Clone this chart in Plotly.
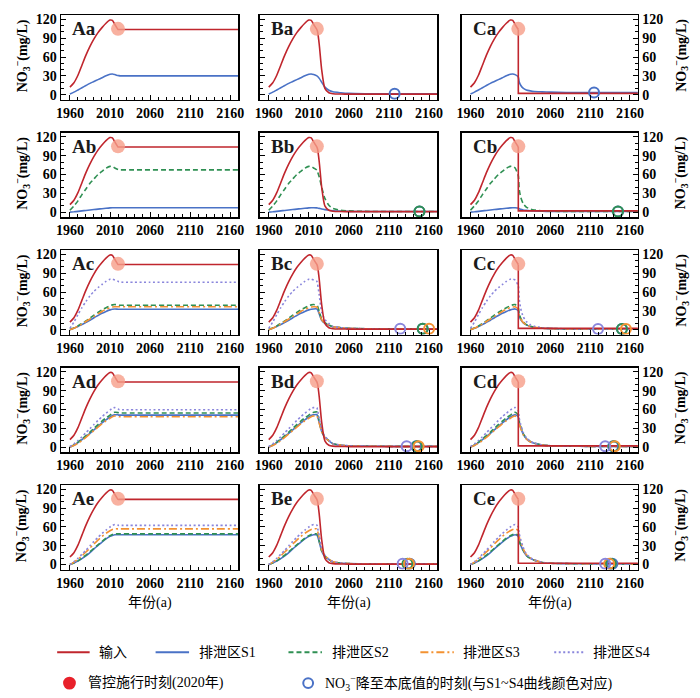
import plotly.graph_objects as go

# ---------------- data ----------------
PRE_YEARS = [1960, 1965, 1970, 1975, 1980, 1985, 1990, 1995, 2000, 2005, 2010, 2013, 2016]
POST_YEARS = [2020, 2021, 2023, 2026, 2030, 2035, 2040, 2050, 2060, 2080, 2110, 2140, 2170]
X_TICKS = [1960, 2010, 2060, 2110, 2160]
Y_TICKS = [0, 30, 60, 90, 120]

# input (输入)
INPUT_PRE = [12, 19, 31, 47, 63, 77, 89, 99, 107, 114, 119, 118.5, 112]
INPUT_POST_A = [104, 104, 104, 104, 104, 104, 104, 104, 104, 104, 104, 104, 104]
INPUT_POST_B = [104, 100, 80, 40, 10, 3, 1.5, 1, 0.8, 0.8, 0.8, 0.8, 0.8]
INPUT_C_END_YEAR = [2020]
INPUT_C_END = [104]
INPUT_C_DROP_YEARS = [2020, 2020, 2170]
INPUT_C_DROP = [104, 2, 2]

CONTROL_YEAR = [2020]
CONTROL_VALUE = [105]

# row a : S1
a_S1_pre = [1, 4, 7.5, 11, 14.5, 18, 21, 24, 27, 30, 32.5, 33, 32]
a_S1_A = [30.5, 30.3, 30, 30, 30, 30, 30, 30, 30, 30, 30, 30, 30]
a_S1_B = [30, 29, 26, 20, 12, 7, 4.5, 3, 2, 1.5, 1.5, 1.5, 1.5]
a_S1_C = [28, 21, 15, 10.5, 7.5, 6, 5, 4.5, 4, 3.5, 3.5, 3.5, 3.5]

# row b : S1, S2
b_S1_pre = [0, 0.5, 1.2, 2, 2.7, 3.4, 4.1, 4.8, 5.5, 6.2, 6.8, 7, 7]
b_S1_A = [7, 7, 7, 7, 7, 7, 7, 7, 7, 7, 7, 7, 7]
b_S1_B = [6.8, 6.6, 6, 5, 4, 3, 2.3, 1.6, 1.2, 1, 1, 1, 1]
b_S1_C = [6.5, 5.5, 4.5, 3.5, 2.8, 2.2, 1.8, 1.4, 1.2, 1, 1, 1, 1]
b_S2_pre = [3, 10, 18, 28, 37, 46, 53, 60, 65, 70, 73, 73, 70.5]
b_S2_A = [68, 67.5, 67.5, 67.5, 67.5, 67.5, 67.5, 67.5, 67.5, 67.5, 67.5, 67.5, 67.5]
b_S2_B = [67, 64, 56, 40, 22, 11, 6, 3, 2, 1.2, 1, 1, 1]
b_S2_C = [58, 38, 24, 14, 8, 5, 3.5, 2, 1.5, 1, 1, 1, 1]

# row c : S1..S4
c_S1_pre = [0, 2, 5, 8, 11.5, 15, 19, 22.5, 26, 29, 31.5, 32.5, 33]
c_S2_pre = [0, 2.5, 6, 10, 14, 18.5, 23, 27.5, 31.5, 35, 38, 39.5, 40]
c_S3_pre = [0, 2, 5.5, 9, 13, 17, 21, 25, 29, 32.5, 35, 36, 36.5]
c_S4_pre = [2, 12, 24, 35, 45, 54, 61, 67, 72, 77, 80.5, 80.5, 79]
c_S1_A = [32.5, 32.5, 32.5, 32.5, 32.5, 32.5, 32.5, 32.5, 32.5, 32.5, 32.5, 32.5, 32.5]
c_S2_A = [39.5, 39, 39, 39, 39, 39, 39, 39, 39, 39, 39, 39, 39]
c_S3_A = [36.5, 36.5, 36.5, 36.5, 36.5, 36.5, 36.5, 36.5, 36.5, 36.5, 36.5, 36.5, 36.5]
c_S4_A = [77, 76.5, 76, 75.5, 75.5, 75.5, 75.5, 75.5, 75.5, 75.5, 75.5, 75.5, 75.5]
c_S1_B = [33, 31.5, 25, 15, 10, 7, 4.5, 3, 2, 1.5, 1.2, 1.2, 1.2]
c_S2_B = [39, 37, 29, 17, 11, 7.5, 4.5, 3, 2, 1.5, 1.2, 1.2, 1.2]
c_S3_B = [36, 34, 27, 16, 10.5, 7.5, 4.5, 3, 2, 1.5, 1.2, 1.2, 1.2]
c_S4_B = [77, 72, 55, 28, 16, 10, 5, 3, 2, 1.5, 1.2, 1.2, 1.2]
c_S1_C = [30, 22, 16, 11, 7.5, 5, 3.5, 2.2, 1.6, 1.2, 1, 1, 1]
c_S2_C = [35, 26, 18.5, 12.5, 8, 5.5, 3.8, 2.3, 1.7, 1.2, 1, 1, 1]
c_S3_C = [32, 24, 17, 11.5, 7.5, 5, 3.6, 2.2, 1.6, 1.2, 1, 1, 1]
c_S4_C = [70, 50, 34, 21, 13, 8, 5.5, 3, 2, 1.3, 1, 1, 1]

# row d : S1..S4
d_S1_pre = [0, 3, 7, 12, 17, 22, 27.5, 33, 38.5, 43.5, 48, 50.5, 51.5]
d_S2_pre = [0, 3.5, 8, 13, 18.5, 24, 30, 36, 41.5, 46.5, 51, 54, 55.5]
d_S3_pre = [0, 2.5, 6, 10.5, 15.5, 21, 26.5, 32, 37, 42, 46, 48.5, 49.5]
d_S4_pre = [1, 5, 10.5, 16.5, 23, 29.5, 36, 42.5, 48.5, 54, 59, 62, 63]
d_S1_A = [51.5, 51, 51, 51, 51, 51, 51, 51, 51, 51, 51, 51, 51]
d_S2_A = [55, 54.5, 54.5, 54.5, 54.5, 54.5, 54.5, 54.5, 54.5, 54.5, 54.5, 54.5, 54.5]
d_S3_A = [49, 48.5, 48.5, 48.5, 48.5, 48.5, 48.5, 48.5, 48.5, 48.5, 48.5, 48.5, 48.5]
d_S4_A = [61, 60, 59.5, 59.5, 59.5, 59.5, 59.5, 59.5, 59.5, 59.5, 59.5, 59.5, 59.5]
d_S1_B = [52, 48.5, 39, 25, 15.5, 10, 5.5, 3, 2, 1.5, 1.2, 1.2, 1.2]
d_S2_B = [56, 52, 41, 26, 16, 10.5, 5.5, 3, 2, 1.5, 1.2, 1.2, 1.2]
d_S3_B = [50, 47, 38, 24.5, 15, 10, 5.5, 3, 2, 1.5, 1.2, 1.2, 1.2]
d_S4_B = [63, 58, 45, 28, 17, 11, 5.5, 3, 2, 1.5, 1.2, 1.2, 1.2]
d_S1_C = [48, 40, 31, 21, 13.5, 8.5, 6, 3.2, 2.1, 1.4, 1.2, 1.2, 1.2]
d_S2_C = [51, 42, 33, 22, 14, 9, 6.2, 3.3, 2.1, 1.4, 1.2, 1.2, 1.2]
d_S3_C = [46, 38, 30, 20, 13, 8.5, 6, 3.2, 2.1, 1.4, 1.2, 1.2, 1.2]
d_S4_C = [58, 47, 36, 24, 15, 9.5, 6.5, 3.4, 2.2, 1.4, 1.2, 1.2, 1.2]

# row e : S1..S4
e_S1_pre = [0, 2.5, 5.5, 9.5, 14, 19, 25, 30.5, 36, 41, 45, 46.5, 47.5]
e_S2_pre = [0, 2.5, 6, 10.5, 15, 20.5, 26, 31.5, 37, 42, 46, 48, 49]
e_S3_pre = [0, 4, 8.5, 14, 20, 26.5, 33, 39, 45, 50, 54, 56, 57]
e_S4_pre = [0, 4.5, 10, 16.5, 23, 30, 37, 43.5, 49.5, 55, 60, 62.5, 64]
e_S1_A = [47.5, 47.5, 47.5, 47.5, 47.5, 47.5, 47.5, 47.5, 47.5, 47.5, 47.5, 47.5, 47.5]
e_S2_A = [49, 49, 49, 49, 49, 49, 49, 49, 49, 49, 49, 49, 49]
e_S3_A = [57, 57, 57, 57, 57, 57, 57, 57, 57, 57, 57, 57, 57]
e_S4_A = [63, 62.5, 62.5, 62.5, 62.5, 62.5, 62.5, 62.5, 62.5, 62.5, 62.5, 62.5, 62.5]
e_S1_B = [47.5, 45, 36, 21.5, 13, 8, 4.2, 2.5, 1.5, 1.2, 1.2, 1.2, 1.2]
e_S2_B = [49, 46, 37, 22, 13.5, 8, 4.2, 2.5, 1.5, 1.2, 1.2, 1.2, 1.2]
e_S3_B = [57, 53, 42, 24, 14.5, 8.5, 4.5, 2.5, 1.5, 1.2, 1.2, 1.2, 1.2]
e_S4_B = [63, 58, 46, 26, 15, 9, 4.5, 2.5, 1.5, 1.2, 1.2, 1.2, 1.2]
e_S1_C = [45, 38, 31, 22.5, 14.5, 9.8, 6.8, 3.3, 2.1, 1.5, 1.2, 1.2, 1.2]
e_S2_C = [46.5, 39, 31.5, 23, 15, 10, 7, 3.3, 2.1, 1.5, 1.2, 1.2, 1.2]
e_S3_C = [54, 45, 36, 25.5, 16, 10.5, 7.2, 3.4, 2.2, 1.5, 1.2, 1.2, 1.2]
e_S4_C = [60, 50, 40, 28, 17, 11, 7.5, 3.5, 2.2, 1.5, 1.2, 1.2, 1.2]

# year when NO3- returns to background (S1, S2, S3, S4) per row, columns B and C
BG_a_B = [2117]
BG_a_C = [2115]
BG_b_B = [2148, 2148]
BG_b_C = [2145, 2145]
BG_c_B = [2152, 2152, 2160, 2124]
BG_c_C = [2150, 2150, 2155, 2120]
BG_d_B = [2144, 2145, 2147, 2132]
BG_d_C = [2139, 2140, 2141, 2129]
BG_e_B = [2136, 2133, 2135, 2127]
BG_e_C = [2138, 2136, 2134, 2129]

# ---------------- layout helpers ----------------
W, H = 700, 698
COL_X = [(57, 237), (259, 439), (464, 643)]
ROW_TOP = [12.5, 131, 249.5, 368, 486.5]
ROW_H = 85
X_RANGE = [1949, 2170]
Y_RANGE = [-8, 126.5]


def px(x):
    return x / W


def py(y):
    return 1 - y / H


SERIF = "Liberation Serif, Noto Sans CJK SC, serif"
MIXED = "Liberation Serif, Noto Sans CJK SC"
RED = "#c0262d"
STYLE = {
    "S1": dict(color="#4a72c6", dash="solid"),
    "S2": dict(color="#2f9053", dash="5px,3px"),
    "S3": dict(color="#f39232", dash="8px,3px,2px,3px"),
    "S4": dict(color="#8a86dc", dash="2px,2.5px"),
}

ROWS = [
    ("a", [("S1", a_S1_pre, a_S1_A, a_S1_B, a_S1_C)], BG_a_B, BG_a_C),
    ("b", [("S1", b_S1_pre, b_S1_A, b_S1_B, b_S1_C),
           ("S2", b_S2_pre, b_S2_A, b_S2_B, b_S2_C)], BG_b_B, BG_b_C),
    ("c", [("S1", c_S1_pre, c_S1_A, c_S1_B, c_S1_C),
           ("S2", c_S2_pre, c_S2_A, c_S2_B, c_S2_C),
           ("S3", c_S3_pre, c_S3_A, c_S3_B, c_S3_C),
           ("S4", c_S4_pre, c_S4_A, c_S4_B, c_S4_C)], BG_c_B, BG_c_C),
    ("d", [("S1", d_S1_pre, d_S1_A, d_S1_B, d_S1_C),
           ("S2", d_S2_pre, d_S2_A, d_S2_B, d_S2_C),
           ("S3", d_S3_pre, d_S3_A, d_S3_B, d_S3_C),
           ("S4", d_S4_pre, d_S4_A, d_S4_B, d_S4_C)], BG_d_B, BG_d_C),
    ("e", [("S1", e_S1_pre, e_S1_A, e_S1_B, e_S1_C),
           ("S2", e_S2_pre, e_S2_A, e_S2_B, e_S2_C),
           ("S3", e_S3_pre, e_S3_A, e_S3_B, e_S3_C),
           ("S4", e_S4_pre, e_S4_A, e_S4_B, e_S4_C)], BG_e_B, BG_e_C),
]
COLS = ["A", "B", "C"]

fig = go.Figure()
annotations = []
shapes = []
layout = {}

for ri, (rname, series, bgB, bgC) in enumerate(ROWS):
    top = ROW_TOP[ri]
    for ci, cname in enumerate(COLS):
        k = ri * 3 + ci + 1
        xa, ya = f"x{k}", f"y{k}"
        # series curves
        for (sname, pre, pA, pB, pC) in series:
            post = {"A": pA, "B": pB, "C": pC}[cname]
            st = STYLE[sname]
            fig.add_trace(go.Scatter(
                x=PRE_YEARS + POST_YEARS, y=pre + post, mode="lines",
                line=dict(color=st["color"], dash=st["dash"], width=1.6,
                          shape="spline", smoothing=0.6),
                xaxis=xa, yaxis=ya, showlegend=False, hoverinfo="skip"))
        # input curve
        if cname == "A":
            fig.add_trace(go.Scatter(
                x=PRE_YEARS + POST_YEARS, y=INPUT_PRE + INPUT_POST_A, mode="lines",
                line=dict(color=RED, width=1.6, shape="spline", smoothing=0.6),
                xaxis=xa, yaxis=ya, showlegend=False, hoverinfo="skip"))
        elif cname == "B":
            fig.add_trace(go.Scatter(
                x=PRE_YEARS + POST_YEARS, y=INPUT_PRE + INPUT_POST_B, mode="lines",
                line=dict(color=RED, width=1.6, shape="spline", smoothing=0.6),
                xaxis=xa, yaxis=ya, showlegend=False, hoverinfo="skip"))
        else:
            fig.add_trace(go.Scatter(
                x=PRE_YEARS + INPUT_C_END_YEAR, y=INPUT_PRE + INPUT_C_END, mode="lines",
                line=dict(color=RED, width=1.6, shape="spline", smoothing=0.6),
                xaxis=xa, yaxis=ya, showlegend=False, hoverinfo="skip"))
            fig.add_trace(go.Scatter(
                x=INPUT_C_DROP_YEARS, y=INPUT_C_DROP, mode="lines",
                line=dict(color=RED, width=1.6),
                xaxis=xa, yaxis=ya, showlegend=False, hoverinfo="skip"))
        # control moment marker
        fig.add_trace(go.Scatter(
            x=CONTROL_YEAR, y=CONTROL_VALUE, mode="markers",
            marker=dict(color="rgba(246,158,136,0.8)", size=14, line=dict(width=0)),
            xaxis=xa, yaxis=ya, showlegend=False, hoverinfo="skip"))
        # background-return markers
        if cname in ("B", "C"):
            bg = bgB if cname == "B" else bgC
            for (sname, pre, pA, pB, pC), yr in zip(series, bg):
                post = pB if cname == "B" else pC
                fig.add_trace(go.Scatter(
                    x=[yr], y=[post[-1]], mode="markers",
                    marker=dict(symbol="circle-open", size=10,
                                color=STYLE[sname]["color"],
                                line=dict(width=2, color=STYLE[sname]["color"])),
                    xaxis=xa, yaxis=ya, showlegend=False, hoverinfo="skip"))

        x0, x1 = COL_X[ci]
        dom_x = [px(x0), px(x1)]
        dom_y = [py(top + ROW_H), py(top)]
        layout[f"xaxis{k}"] = dict(
            domain=dom_x, anchor=ya, range=X_RANGE, tickvals=X_TICKS,
            ticks="inside", ticklen=5, tickwidth=1, tickcolor="black",
            minor=dict(ticks="inside", ticklen=3, tickwidth=1, tickcolor="black",
                       tick0=1960, dtick=10, showgrid=False),
            showline=True, linecolor="black", linewidth=1.5, mirror=True,
            showgrid=False, zeroline=False,
            tickfont=dict(family=SERIF, size=14, color="black", weight="bold"))
        yside = "right" if cname == "C" else "left"
        layout[f"yaxis{k}"] = dict(
            domain=dom_y, anchor=xa, range=Y_RANGE, tickvals=Y_TICKS,
            side=yside, showticklabels=(cname != "B"),
            ticks="inside", ticklen=5, tickwidth=1, tickcolor="black",
            minor=dict(ticks="inside", ticklen=3, tickwidth=1, tickcolor="black",
                       tick0=0, dtick=10, showgrid=False),
            showline=True, linecolor="black", linewidth=1.5, mirror=True,
            showgrid=False, zeroline=False,
            tickfont=dict(family=SERIF, size=14, color="black", weight="bold"))
        # panel label
        annotations.append(dict(
            text=f"<b>{cname}{rname}</b>", xref="paper", yref="paper",
            x=px(x0 + 9), y=py(top + 1), xanchor="left", yanchor="top",
            showarrow=False, font=dict(family=SERIF, size=19, color="#1a1a1a")))
    # y titles
    yc = py(top + ROW_H / 2 - 2)
    for xx in (17, 686):
        annotations.append(dict(
            text="<b>NO<sub>3</sub><sup>−</sup>(mg/L)</b>", xref="paper", yref="paper",
            x=px(xx), y=yc, xanchor="center", yanchor="middle", textangle=-90,
            showarrow=False, font=dict(family=SERIF, size=14, color="black")))

# x titles
for (x0, x1) in COL_X:
    annotations.append(dict(
        text="年份(a)", xref="paper", yref="paper", x=px((x0 + x1) / 2), y=py(605),
        xanchor="center", yanchor="middle", showarrow=False,
        font=dict(family=MIXED, size=14, color="black")))

# legend (row 1: lines)
LEG1 = [("输入", RED, "solid", 53, 86, 93),
        ("排泄区S1", STYLE["S1"]["color"], "solid", 153, 187, 195),
        ("排泄区S2", STYLE["S2"]["color"], "5px,3px", 288, 322, 330),
        ("排泄区S3", STYLE["S3"]["color"], "8px,3px,2px,3px", 422, 456, 463),
        ("排泄区S4", STYLE["S4"]["color"], "2px,2.5px", 558, 589, 595)]
for (txt, colr, dash, lx0, lx1, tx) in LEG1:
    shapes.append(dict(type="line", xref="paper", yref="paper",
                       x0=px(lx0), x1=px(lx1), y0=py(655), y1=py(655),
                       line=dict(color=colr, width=2, dash=dash)))
    annotations.append(dict(text=txt, xref="paper", yref="paper", x=px(tx), y=py(655),
                            xanchor="left", yanchor="middle", showarrow=False,
                            font=dict(family=MIXED, size=14, color="black")))
# legend (row 2: markers)
shapes.append(dict(type="circle", xref="paper", yref="paper",
                   x0=px(59), x1=px(72), y0=py(692.5), y1=py(679.5),
                   fillcolor="#e8202a", line=dict(width=0)))
annotations.append(dict(text="管控施行时刻(2020年)", xref="paper", yref="paper",
                        x=px(82), y=py(686), xanchor="left", yanchor="middle",
                        showarrow=False, font=dict(family=MIXED, size=14, color="black")))
shapes.append(dict(type="circle", xref="paper", yref="paper",
                   x0=px(303), x1=px(313), y0=py(691), y1=py(681),
                   line=dict(width=2, color=STYLE["S1"]["color"])))
annotations.append(dict(text="NO<sub>3</sub><sup>−</sup>降至本底值的时刻(与S1~S4曲线颜色对应)",
                        xref="paper", yref="paper", x=px(323), y=py(686),
                        xanchor="left", yanchor="middle", showarrow=False,
                        font=dict(family=MIXED, size=14, color="black")))

fig.update_layout(
    width=W, height=H, margin=dict(l=0, r=0, t=0, b=0),
    paper_bgcolor="white", plot_bgcolor="white",
    showlegend=False, annotations=annotations, shapes=shapes, **layout)

fig.write_html(
    "out.html",
    config={"displayModeBar": False, "staticPlot": True},
    post_script="document.body.style.margin='0';document.body.style.overflow='hidden';")
